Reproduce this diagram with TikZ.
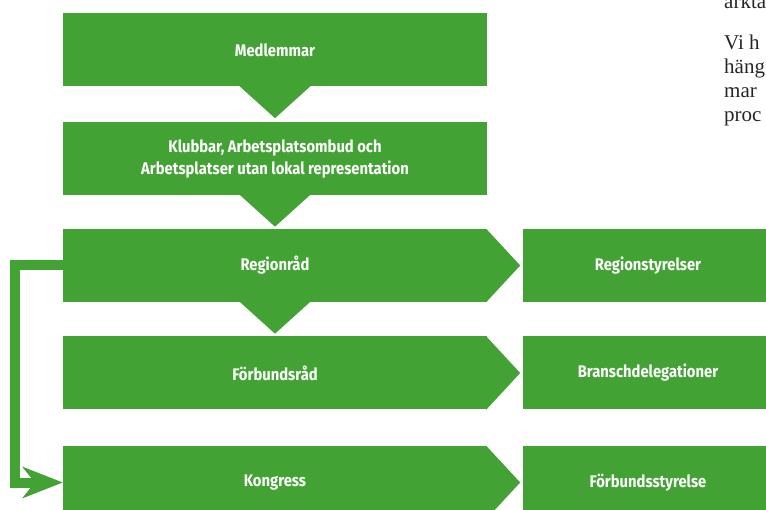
\documentclass[tikz,border=0pt]{standalone}
\usepackage{fontspec}
\setsansfont{Fira Sans}[FakeStretch=0.88]
\newfontfamily\serifx{Liberation Serif}
\usetikzlibrary{arrows.meta,calc}
\definecolor{grn}{RGB}{67,162,52}
\begin{document}
\begin{tikzpicture}[x=1pt,y=-1pt,
  box/.style={fill=grn, minimum width=424pt, minimum height=73pt, inner sep=0pt,
    text=white, font=\sffamily\bfseries\fontsize{16.8}{22}\selectfont, align=center},
  rbox/.style={box, minimum width=250pt},
  conn/.style={draw=grn, line width=10pt, -{Stealth[length=40pt,width=31pt,inset=12pt]}},
  frag/.style={anchor=base west, inner sep=0pt, font=\serifx\fontsize{21}{24}\selectfont, text=black!85}]
\useasboundingbox (0,0) rectangle (766,510);
\clip (0,0) rectangle (766,510);
% left column
\node[box] (med) at (275,50) {Medlemmar};
\node[box] (klub) at (275,158.5) {Klubbar, Arbetsplatsombud och\\Arbetsplatser utan lokal representation};
\node[box] (reg) at (275,265.5) {Regionråd};
\node[box] (forb) at (275,373) {Förbundsråd};
\node[box] (kong) at (275,482.5) {Kongress};
% right column
\node[rbox] (rst) at (648,265.5) {Regionstyrelser};
\node[rbox] (bd) at (648,373) {Branschdelegationer};
\node[rbox] (fst) at (648,482.5) {Förbundsstyrelse};
% downward triangles
\foreach \n in {med,klub,reg}{
  \fill[grn] ($(\n.south)+(-36,-1)$) -- ($(\n.south)+(36,-1)$) -- ($(\n.south)+(0,31.5)$) -- cycle;
}
% chevrons
\foreach \n in {reg,forb,kong}{
  \fill[grn] ($(\n.north east)+(-1,0)$) -- ($(\n.east)+(33,0)$) -- ($(\n.south east)+(-1,0)$) -- cycle;
}
% connector
\draw[conn] (reg.west) -- ++(-48,0) |- (kong.west);
% cropped text fragments
\node[frag] (f0) at (724,9) {arkta};
\node[frag] (f1) at (724,50) {Vi h};
\node[frag] (f2) at (724,74) {häng};
\node[frag] (f3) at (724,98) {mar};
\node[frag] (f4) at (724,122) {proc};
\end{tikzpicture}
\end{document}
